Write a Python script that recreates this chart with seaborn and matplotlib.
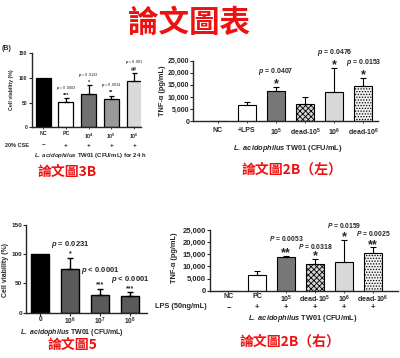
import matplotlib
matplotlib.use('Agg')
import matplotlib.pyplot as plt
import matplotlib.transforms as mtransforms
from matplotlib.ticker import FuncFormatter
import seaborn as sns
import pandas as pd
import numpy as np

# ---------------- data ----------------
# Figure 3B (top-left)
cse_cats = ['NC', 'PC', '10^4', '10^5', '10^6']
cse_vals = [100, 52, 68, 58, 93]
cse_errs = [0, 7, 17, 6, 18]
cse_pvals = ['', 'p = 0.0003', 'p = 0.0133', 'p = 0.0014', 'p = 0.001']
cse_stars = ['', '***', '*', '**', '##']
cse_signs = ['−', '+', '+', '+', '+']

# Figure 2B left (top-right)
tnfl_cats = ['NC', '+LPS', '10^5', 'dead-10^5', '10^6', 'dead-10^6']
tnfl_vals = [0, 6500, 12300, 7000, 12000, 14500]
tnfl_errs = [0, 1500, 2000, 2800, 10000, 3500]
tnfl_pvals = ['', '', 'p = 0.0407', '', 'p = 0.0476', 'p = 0.0153']
tnfl_stars = ['', '', '*', '', '*', '*']

# Figure 5 (bottom-left)
dose_cats = ['0', '10^6', '10^7', '10^8']
dose_vals = [100, 74, 31, 28]
dose_errs = [0, 20, 10, 7]
dose_pvals = ['', 'p = 0.0231', 'p < 0.0001', 'p < 0.0001']
dose_stars = ['', '*', '***', '***']

# Figure 2B right (bottom-right)
tnfr_cats = ['NC', 'PC', '10^5', 'dead-10^5', '10^6', 'dead-10^6']
tnfr_vals = [0, 6500, 14000, 10900, 12000, 15500]
tnfr_errs = [0, 1500, 300, 2200, 8800, 2300]
tnfr_pvals = ['', '', 'P = 0.0053', 'P = 0.0318', 'P = 0.0159', 'P = 0.0025']
tnfr_stars = ['', '', '**', '*', '*', '**']
tnfr_signs = ['−', '+', '+', '+', '+', '+']

# ---------------- style ----------------
sns.set_theme(style='ticks')
plt.rcParams['font.family'] = ['Liberation Sans', 'DejaVu Sans']
plt.rcParams['mathtext.fontset'] = 'custom'
plt.rcParams['mathtext.rm'] = 'Liberation Sans'
plt.rcParams['mathtext.it'] = 'Liberation Sans:italic'
plt.rcParams['mathtext.bf'] = 'Liberation Sans:bold'
plt.rcParams['mathtext.bfit'] = 'Liberation Sans:bold:italic'
plt.rcParams['hatch.linewidth'] = 0.6
plt.rcParams['hatch.color'] = '#6a6a6a'

W, H = 400, 358
fig = plt.figure(figsize=(W / 100, H / 100), dpi=100)
fig.patch.set_facecolor('white')

RED = '#ee1111'
CJK = ['Noto Sans CJK TC', 'DejaVu Sans']


def rect(l, t, r, b):
    return [l / W, 1 - b / H, (r - l) / W, (b - t) / H]


def fy(y):
    return 1 - y / H


def fmt_cat(c):
    if '^' in c:
        pre, rest = c.split('10^')
        return pre + r'$\mathbf{10^{' + rest + '}}$'
    return c


def fmt_p(p):
    if not p:
        return ''
    return r'$\mathbfit{' + p[0] + '}$' + p[1:]


def draw(ax, cats, vals, errs, colors, width, hatches=None, cap=2.2, lw=0.8):
    df = pd.DataFrame({'cat': cats, 'val': vals})
    sns.barplot(data=df, x='cat', y='val', hue='cat', order=cats, hue_order=cats,
                palette=dict(zip(cats, colors)), legend=False, errorbar=None,
                width=width, edgecolor='black', linewidth=lw, saturation=1, ax=ax)
    x = np.arange(len(cats))
    e = np.array(errs, dtype=float)
    m = e > 0
    ax.errorbar(x[m], np.array(vals)[m], yerr=[np.zeros(m.sum()), e[m]], fmt='none',
                ecolor='black', elinewidth=lw, capsize=cap, capthick=lw)
    if hatches:
        for p in ax.patches:
            cx = p.get_x() + p.get_width() / 2
            i = int(round(cx))
            if 0 <= i < len(hatches) and hatches[i]:
                p.set_hatch(hatches[i])
    ax.set_xlabel('')
    ax.set_ylabel('')
    sns.despine(ax=ax)
    for s in ['left', 'bottom']:
        ax.spines[s].set_linewidth(1.0)
    return x


def annotate(ax, vals, errs, pvals, stars, pfs, sfs, s_off, p_off, weight='bold'):
    n = len(vals)
    p_offs = p_off if isinstance(p_off, (list, tuple)) else [p_off] * n
    for i, (v, e, p, s) in enumerate(zip(vals, errs, pvals, stars)):
        top = v + e
        if s:
            ax.annotate(s, (i, top), xytext=(0, s_off), textcoords='offset points',
                        ha='center', va='bottom', fontsize=sfs, fontweight='bold')
        if p:
            ax.annotate(fmt_p(p), (i, top), xytext=(0, p_offs[i]), textcoords='offset points',
                        ha='center', va='bottom', fontsize=pfs, fontweight=weight)


comma = FuncFormatter(lambda v, _: f'{int(v):,}')

# title
fig.text(189 / W, fy(23), '論文圖表', family=CJK, fontsize=22, fontweight='bold',
         color=RED, ha='center', va='center')

# ---------- panel 1: Fig 3B ----------
ax1 = fig.add_axes(rect(31.7, 53.3, 141, 127.3))
x1 = draw(ax1, cse_cats, cse_vals, cse_errs,
          ['#000000', '#ffffff', '#707070', '#999999', '#d9d9d9'], 0.66, cap=1.8, lw=0.9)
ax1.set_ylim(0, 150)
ax1.set_yticks([0, 50, 100, 150])
ax1.set_xlim(-0.5, 4.3)
ax1.set_xticks(x1)
ax1.set_xticklabels([fmt_cat(c) for c in cse_cats], fontsize=3.8, fontweight='bold')
ax1.tick_params(axis='y', labelsize=3.6, length=2, width=0.8, pad=1)
ax1.tick_params(axis='x', length=1.5, width=0.6, pad=1.5)
for t in ax1.get_yticklabels():
    t.set_fontweight('bold')
annotate(ax1, cse_vals, cse_errs, cse_pvals, cse_stars, 2.8, 4.0, 0.3, 4.5, weight='normal')
fig.text(11.7 / W, fy(90), 'Cell viability (%)', rotation=90, fontsize=3.8,
         fontweight='bold', ha='center', va='center')
fig.text(2 / W, fy(49), '(B)', fontsize=5, fontweight='bold', ha='left', va='center')
tr1 = mtransforms.blended_transform_factory(ax1.transData, fig.transFigure)
fig.text(5 / W, fy(145.5), '20% CSE', fontsize=4, fontweight='bold', ha='left', va='center')
for i, s in enumerate(cse_signs):
    ax1.text(i, fy(145.5), s, transform=tr1, fontsize=4.5, fontweight='bold',
             ha='center', va='center')
fig.text(90 / W, fy(156), r'$\mathbfit{L.\ acidophilus}$ TW01 (CFU/mL) for 24 h',
         fontsize=4.3, fontweight='bold', ha='center', va='center')
fig.text(67 / W, fy(172), '論文圖3B', family=CJK, fontsize=10, fontweight='bold',
         color=RED, ha='center', va='center')

# ---------- panel 2: Fig 2B left ----------
tnf_colors = ['#ffffff', '#ffffff', '#777777', '#d4d4d4', '#d8d8d8', '#f2f2f2']
tnf_hatch = ['', '', '', 'xxxxxx', '', '......']
ax2 = fig.add_axes(rect(193.3, 60.7, 378, 121))
x2 = draw(ax2, tnfl_cats, tnfl_vals, tnfl_errs, tnf_colors, 0.62, hatches=tnf_hatch)
ax2.set_ylim(0, 25000)
ax2.set_yticks(np.arange(0, 25001, 5000))
ax2.yaxis.set_major_formatter(comma)
ax2.set_xlim(-0.84, 5.5)
ax2.set_xticks(x2)
ax2.set_xticklabels([fmt_cat(c) for c in tnfl_cats], fontsize=5, fontweight='bold')
ax2.tick_params(axis='y', labelsize=5, length=2, width=0.8, pad=1)
ax2.tick_params(axis='x', length=1.5, width=0.6, pad=2.5)
for t in ax2.get_yticklabels():
    t.set_fontweight('bold')
annotate(ax2, tnfl_vals, tnfl_errs, tnfl_pvals, tnfl_stars, 5, 9, -2.5, 7)
fig.text(162 / W, fy(91), 'TNF-α (pg/mL)', rotation=90, fontsize=5.3,
         fontweight='bold', ha='center', va='center')
fig.text(288 / W, fy(148), r'$\mathbfit{L.\ acidophilus}$ TW01 (CFU/mL)',
         fontsize=5.3, fontweight='bold', ha='center', va='center')
fig.text(292 / W, fy(170), '論文圖2B（左）', family=CJK, fontsize=10, fontweight='bold',
         color=RED, ha='center', va='center')

# ---------- panel 3: Fig 5 ----------
ax3 = fig.add_axes(rect(26, 225, 147, 312.7))
x3 = draw(ax3, dose_cats, dose_vals, dose_errs,
          ['#000000', '#5a5a5a', '#5a5a5a', '#5a5a5a'], 0.6, cap=2.5, lw=1.0)
ax3.set_ylim(0, 150)
ax3.set_yticks([0, 50, 100, 150])
ax3.set_xlim(-0.47, 3.57)
ax3.set_xticks(x3)
ax3.set_xticklabels([fmt_cat(c) for c in dose_cats], fontsize=4.7, fontweight='bold')
ax3.tick_params(axis='y', labelsize=4.6, length=2, width=0.8, pad=1)
ax3.tick_params(axis='x', length=1.8, width=0.8, pad=0.4)
for t in ax3.get_yticklabels():
    t.set_fontweight('bold')
annotate(ax3, dose_vals, dose_errs, dose_pvals, dose_stars, 5.5, 5, 0.2, [0, 5.5, 9.5, 5.5])
fig.text(6 / W, fy(270), 'Cell viability (%)', rotation=90, fontsize=5,
         fontweight='bold', ha='center', va='center')
fig.text(72 / W, fy(332.5), r'$\mathbfit{L.\ acidophilus}$ TW01 (CFU/mL)',
         fontsize=5, fontweight='bold', ha='center', va='center')
fig.text(72 / W, fy(345), '論文圖5', family=CJK, fontsize=10, fontweight='bold',
         color=RED, ha='center', va='center')

# ---------- panel 4: Fig 2B right ----------
ax4 = fig.add_axes(rect(210, 230, 398, 290.7))
x4 = draw(ax4, tnfr_cats, tnfr_vals, tnfr_errs, tnf_colors, 0.63, hatches=tnf_hatch)
ax4.set_ylim(0, 25000)
ax4.set_yticks(np.arange(0, 25001, 5000))
ax4.yaxis.set_major_formatter(comma)
ax4.set_xlim(-0.64, 5.87)
ax4.set_xticks(x4)
ax4.set_xticklabels([fmt_cat(c) for c in tnfr_cats], fontsize=5.1, fontweight='bold')
ax4.tick_params(axis='y', labelsize=5.5, length=2, width=0.8, pad=1)
ax4.tick_params(axis='x', length=1.5, width=0.6, pad=0.5)
for t in ax4.get_yticklabels():
    t.set_fontweight('bold')
annotate(ax4, tnfr_vals, tnfr_errs, tnfr_pvals, tnfr_stars, 4.9, 9, -2.5,
         [0, 0, 9.5, 6.0, 7.2, 6.5])
fig.text(175 / W, fy(258), 'TNF-α (pg/mL)', rotation=90, fontsize=5.3,
         fontweight='bold', ha='center', va='center')
tr4 = mtransforms.blended_transform_factory(ax4.transData, fig.transFigure)
fig.text(155 / W, fy(307), 'LPS (50ng/mL)', fontsize=5.3, fontweight='bold',
         ha='left', va='center')
for i, s in enumerate(tnfr_signs):
    ax4.text(i, fy(308), s, transform=tr4, fontsize=5.5, fontweight='bold',
             ha='center', va='center')
fig.text(303 / W, fy(318.5), r'$\mathbfit{L.\ acidophilus}$ TW01 (CFU/mL)',
         fontsize=5.3, fontweight='bold', ha='center', va='center')
fig.text(290 / W, fy(342), '論文圖2B（右）', family=CJK, fontsize=10, fontweight='bold',
         color=RED, ha='center', va='center')

fig.savefig('out.png', dpi=100, facecolor='white')
